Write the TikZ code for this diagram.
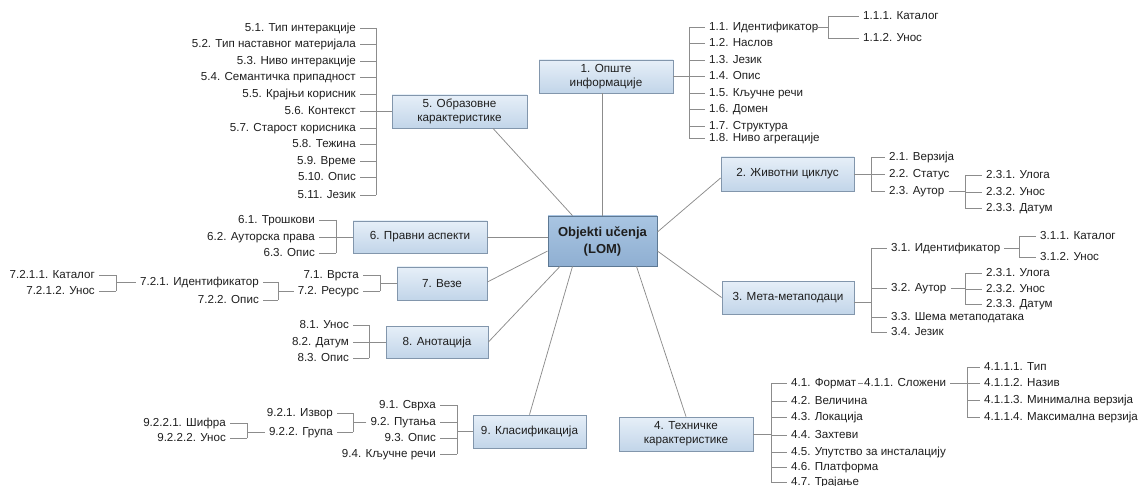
\documentclass[tikz,border=0pt]{standalone}
\usepackage{fontspec}
\setmainfont{Liberation Sans}
\usetikzlibrary{shadows}

\definecolor{ink}{HTML}{1E1E1E}
\definecolor{wirecol}{HTML}{8C8C8C}
\definecolor{boxtop}{HTML}{E6EFF8}
\definecolor{boxbot}{HTML}{C2D5E9}
\definecolor{boxline}{HTML}{8296AC}
\definecolor{coretop}{HTML}{A9C5E2}
\definecolor{corebot}{HTML}{8FAFD2}
\definecolor{coreline}{HTML}{5D7893}

\tikzset{
  topic/.style={draw=boxline, line width=0.8pt, top color=boxtop, bottom color=boxbot,
    align=center, inner sep=1pt, text=ink, font=\fontsize{11.7}{14}\selectfont,
    drop shadow={shadow xshift=1.3pt, shadow yshift=-1.3pt, opacity=0.28, fill=black}},
  core/.style={topic, draw=coreline, top color=coretop, bottom color=corebot,
    font=\fontsize{13}{17}\selectfont\bfseries},
  item/.style={inner xsep=4pt, inner ysep=0pt, text height=8.5pt, text depth=1pt,
    font=\fontsize{11.6}{13}\selectfont, text=ink},
  rleaf/.style={item, anchor=west},
  lleaf/.style={item, anchor=east},
  wire/.style={draw=wirecol, line width=0.75pt},
}

% bracket helpers: vertical bar at #1 from #2 to #3, ticks to every leaf in #4
\newcommand{\fanR}[4]{\draw[wire] (#2.west -| #1) -- (#3.west -| #1);
  \foreach \n in {#4}{\draw[wire] (\n.west -| #1) -- (\n.west);}}
\newcommand{\fanL}[4]{\draw[wire] (#2.east -| #1) -- (#3.east -| #1);
  \foreach \n in {#4}{\draw[wire] (\n.east -| #1) -- (\n.east);}}

\begin{document}
\begin{tikzpicture}[x=1pt, y=-1pt]
\useasboundingbox (0,0) rectangle (1145,486);

% ---------- main topics ----------
\node[core, minimum width=109pt, minimum height=50pt] (c) at (602.5,241) {Objekti učenja\\(LOM)};
\node[topic, minimum width=134pt, minimum height=33pt] (n1) at (606,76.5) {1. Опште\\информације};
\node[topic, minimum width=133pt, minimum height=34pt] (n2) at (787.5,174) {2. Животни циклус};
\node[topic, minimum width=132pt, minimum height=33pt] (n3) at (788,297.5) {3. Мета-метаподаци};
\node[topic, minimum width=134pt, minimum height=34pt] (n4) at (686,434) {4. Техничке\\карактеристике};
\node[topic, minimum width=135pt, minimum height=33pt] (n5) at (459.5,111.5) {5. Образовне\\карактеристике};
\node[topic, minimum width=134pt, minimum height=32pt] (n6) at (420,237) {6. Правни аспекти};
\node[topic, minimum width=90pt, minimum height=33pt] (n7) at (442,283.5) {7. Везе};
\node[topic, minimum width=102pt, minimum height=32pt] (n8) at (437,342) {8. Анотација};
\node[topic, minimum width=113pt, minimum height=33pt] (n9) at (529.5,431.5) {9. Класификација};

% ---------- spokes from the central topic ----------
\draw[wire] (c.north) -- (c.north |- n1.south);
\draw[wire] ([xshift=-30pt]c.north) -- ([xshift=33.5pt]n5.south);
\draw[wire] ([yshift=9pt]c.east) -- ([yshift=-4pt]n2.west);
\draw[wire] ([yshift=-10pt]c.east) -- (n3.west);
\draw[wire] (n6.east) -- (n6.east -| c.west);
\draw[wire] ([yshift=-10pt]c.west) -- ([yshift=1.5pt]n7.east);
\draw[wire] ([xshift=-42.5pt]c.south) -- (n8.east);
\draw[wire] ([xshift=-30pt]c.south) -- (n9.north);
\draw[wire] ([xshift=34pt]c.south) -- (n4.north);

% ---------- 1. general ----------
\coordinate (b1) at (689,0);
\node[rleaf] (l11) at (705,27) {1.1. Идентификатор};
\node[rleaf] (l12) at (705,43) {1.2. Наслов};
\node[rleaf] (l13) at (705,60) {1.3. Језик};
\node[rleaf] (l14) at (705,76) {1.4. Опис};
\node[rleaf] (l15) at (705,93) {1.5. Кључне речи};
\node[rleaf] (l16) at (705,109) {1.6. Домен};
\node[rleaf] (l17) at (705,126) {1.7. Структура};
\node[rleaf] (l18) at (705,138) {1.8. Ниво агрегације};
\draw[wire] (n1.east) -- (n1.east -| b1);
\fanR{b1}{l11}{l18}{l11,l12,l13,l14,l15,l16,l17,l18}
\coordinate (b11) at (828,0);
\node[rleaf] (l111) at (859,16) {1.1.1. Каталог};
\node[rleaf] (l112) at (859,38) {1.1.2. Унос};
\draw[wire] ([xshift=-8pt]l11.east) -- (l11.east -| b11);
\fanR{b11}{l111}{l112}{l111,l112}

% ---------- 2. life cycle ----------
\coordinate (b2) at (871,0);
\node[rleaf] (l21) at (885,157) {2.1. Верзија};
\node[rleaf] (l22) at (885,174) {2.2. Статус};
\node[rleaf] (l23) at (885,191) {2.3. Аутор};
\draw[wire] (n2.east) -- (n2.east -| b2);
\fanR{b2}{l21}{l23}{l21,l22,l23}
\coordinate (b23) at (965,0);
\node[rleaf] (l231) at (982,175) {2.3.1. Улога};
\node[rleaf] (l232) at (982,192) {2.3.2. Унос};
\node[rleaf] (l233) at (982,208) {2.3.3. Датум};
\draw[wire] (l23.east) -- (l23.east -| b23);
\fanR{b23}{l231}{l233}{l231,l232,l233}

% ---------- 3. meta-metadata ----------
\coordinate (b3) at (871,0);
\coordinate (j3) at ([yshift=-4.5pt]n3.east);
\node[rleaf] (l31) at (887,248) {3.1. Идентификатор};
\node[rleaf] (l32) at (887,288) {3.2. Аутор};
\node[rleaf] (l33) at (887,317) {3.3. Шема метаподатака};
\node[rleaf] (l34) at (887,332) {3.4. Језик};
\draw[wire] (j3) -- (j3 -| b3);
\fanR{b3}{l31}{l34}{l31,l32,l33,l34}
\coordinate (b31) at (1019,0);
\node[rleaf] (l311) at (1036,236) {3.1.1. Каталог};
\node[rleaf] (l312) at (1036,257) {3.1.2. Унос};
\draw[wire] (l31.east) -- (l31.east -| b31);
\fanR{b31}{l311}{l312}{l311,l312}
\coordinate (b32) at (965,0);
\node[rleaf] (l321) at (982,273) {2.3.1. Улога};
\node[rleaf] (l322) at (982,289) {2.3.2. Унос};
\node[rleaf] (l323) at (982,304) {2.3.3. Датум};
\draw[wire] (l32.east) -- (l32.east -| b32);
\fanR{b32}{l321}{l323}{l321,l322,l323}

% ---------- 4. technical ----------
\coordinate (b4) at (771,0);
\node[rleaf] (l41) at (787,383) {4.1. Формат};
\node[rleaf] (l42) at (787,401) {4.2. Величина};
\node[rleaf] (l43) at (787,417) {4.3. Локација};
\node[rleaf] (l44) at (787,435) {4.4. Захтеви};
\node[rleaf] (l45) at (787,452) {4.5. Упутство за инсталацију};
\node[rleaf] (l46) at (787,467) {4.6. Платформа};
\node[rleaf] (l47) at (787,482) {4.7. Трајање};
\draw[wire] (n4.east) -- (n4.east -| b4);
\fanR{b4}{l41}{l47}{l41,l42,l43,l44,l45,l46,l47}
\node[rleaf] (l411) at (860,383) {4.1.1. Сложени};
\draw[wire] ([xshift=-2pt]l41.east) -- ([xshift=2.5pt]l411.west);
\coordinate (b411) at (967,0);
\node[rleaf] (l4111) at (980,367) {4.1.1.1. Тип};
\node[rleaf] (l4112) at (980,383) {4.1.1.2. Назив};
\node[rleaf] (l4113) at (980,400) {4.1.1.3. Минимална верзија};
\node[rleaf] (l4114) at (980,417) {4.1.1.4. Максимална верзија};
\draw[wire] (l411.east) -- (l411.east -| b411);
\fanR{b411}{l4111}{l4114}{l4111,l4112,l4113,l4114}

% ---------- 5. educational ----------
\coordinate (b5) at (376,0);
\node[lleaf] (l51) at (360,28) {5.1. Тип интеракције};
\node[lleaf] (l52) at (360,44) {5.2. Тип наставног материјала};
\node[lleaf] (l53) at (360,61) {5.3. Ниво интеракције};
\node[lleaf] (l54) at (360,77) {5.4. Семантичка припадност};
\node[lleaf] (l55) at (360,94) {5.5. Крајњи корисник};
\node[lleaf] (l56) at (360,111) {5.6. Контекст};
\node[lleaf] (l57) at (360,128) {5.7. Старост корисника};
\node[lleaf] (l58) at (360,144) {5.8. Тежина};
\node[lleaf] (l59) at (360,161) {5.9. Време};
\node[lleaf] (l510) at (360,177) {5.10. Опис};
\node[lleaf] (l511) at (360,195) {5.11. Језик};
\draw[wire] (n5.west) -- (n5.west -| b5);
\fanL{b5}{l51}{l511}{l51,l52,l53,l54,l55,l56,l57,l58,l59,l510,l511}

% ---------- 6. rights ----------
\coordinate (b6) at (336,0);
\node[lleaf] (l61) at (319,220) {6.1. Трошкови};
\node[lleaf] (l62) at (319,237) {6.2. Ауторска права};
\node[lleaf] (l63) at (319,253) {6.3. Опис};
\draw[wire] (n6.west) -- (n6.west -| b6);
\fanL{b6}{l61}{l63}{l61,l62,l63}

% ---------- 7. relations ----------
\coordinate (b7) at (380,0);
\node[lleaf] (l71) at (363,275) {7.1. Врста};
\node[lleaf] (l72) at (363,291) {7.2. Ресурс};
\draw[wire] (n7.west) -- (n7.west -| b7);
\fanL{b7}{l71}{l72}{l71,l72}
\coordinate (b72) at (278,0);
\node[lleaf] (l721) at (263,282) {7.2.1. Идентификатор};
\node[lleaf] (l722) at (263,300) {7.2.2. Опис};
\draw[wire] (l72.west) -- (l72.west -| b72);
\fanL{b72}{l721}{l722}{l721,l722}
\coordinate (b721) at (116,0);
\node[lleaf] (l7211) at (99,275) {7.2.1.1. Каталог};
\node[lleaf] (l7212) at (99,291) {7.2.1.2. Унос};
\draw[wire] (l721.west) -- (l721.west -| b721);
\fanL{b721}{l7211}{l7212}{l7211,l7212}

% ---------- 8. annotation ----------
\coordinate (b8) at (369,0);
\node[lleaf] (l81) at (353,325) {8.1. Унос};
\node[lleaf] (l82) at (353,342) {8.2. Датум};
\node[lleaf] (l83) at (353,358) {8.3. Опис};
\draw[wire] (n8.west) -- (n8.west -| b8);
\fanL{b8}{l81}{l83}{l81,l82,l83}

% ---------- 9. classification ----------
\coordinate (b9) at (457,0);
\node[lleaf] (l91) at (440,405) {9.1. Сврха};
\node[lleaf] (l92) at (440,422) {9.2. Путања};
\node[lleaf] (l93) at (440,438) {9.3. Опис};
\node[lleaf] (l94) at (440,454) {9.4. Кључне речи};
\draw[wire] (n9.west) -- (n9.west -| b9);
\fanL{b9}{l91}{l94}{l91,l92,l93,l94}
\coordinate (b92) at (353,0);
\node[lleaf] (l921) at (337,413) {9.2.1. Извор};
\node[lleaf] (l922) at (337,432) {9.2.2. Група};
\draw[wire] (l92.west) -- (l92.west -| b92);
\fanL{b92}{l921}{l922}{l921,l922}
\coordinate (b922) at (247,0);
\node[lleaf] (l9221) at (230,423) {9.2.2.1. Шифра};
\node[lleaf] (l9222) at (230,438) {9.2.2.2. Унос};
\draw[wire] (l922.west) -- (l922.west -| b922);
\fanL{b922}{l9221}{l9222}{l9221,l9222}
\end{tikzpicture}
\end{document}
